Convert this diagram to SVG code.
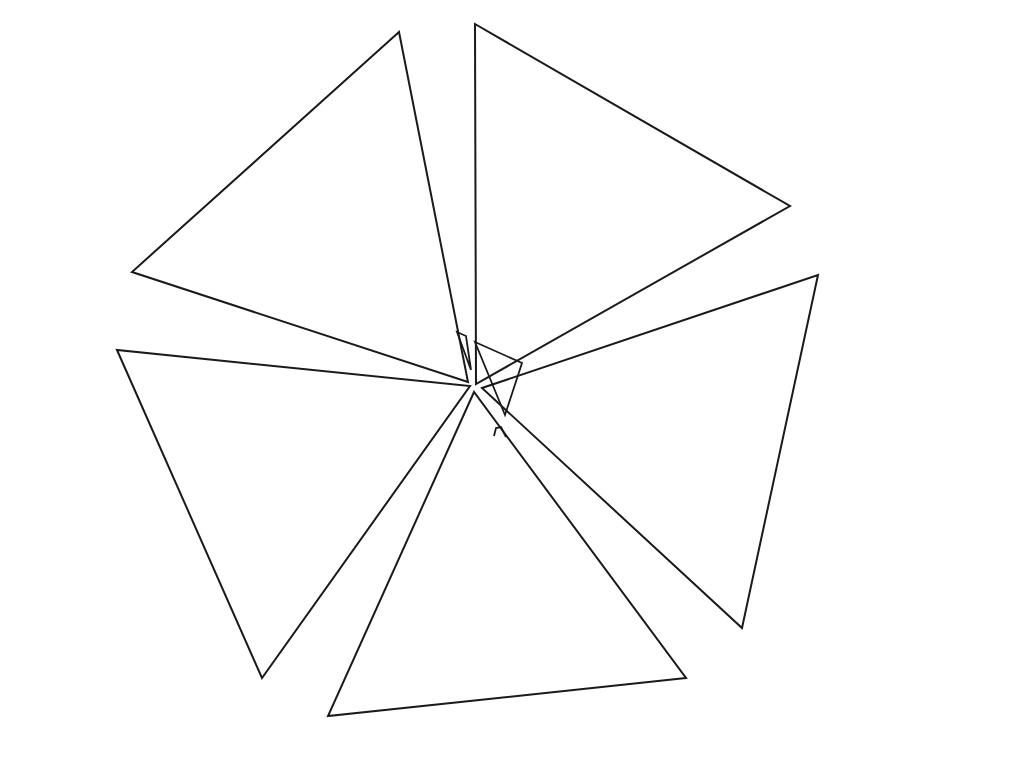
<svg xmlns="http://www.w3.org/2000/svg" width="1024" height="761" viewBox="0 0 1024 761">
<style>
.t{fill:none;stroke:#1a1a1a;stroke-width:2;stroke-linejoin:miter}
.s{fill:none;stroke:#1a1a1a;stroke-width:1.8}
</style>
<rect width="1024" height="761" fill="#ffffff"/>
<g id="triangle-1"><polygon class="t" points="399,32 132,272 468,382"/></g>
<g id="triangle-2"><polygon class="t" points="475,24 790,206 476,384"/></g>
<g id="triangle-3"><polygon class="t" points="818,275 742,628 482,388"/></g>
<g id="triangle-4"><polygon class="t" points="686,678 328,716 474,392"/></g>
<g id="triangle-5"><polygon class="t" points="117,350 262,678 470,386"/></g>
<g id="center-shapes">
<polygon class="s" points="475,342 522,363 505,415"/>
<polygon class="s" points="457,332 466,336 471,370"/>
<path class="s" d="M494,436 L496,428 L501,427 L506,437"/>
</g>
<g id="connectors"></g>
</svg>
